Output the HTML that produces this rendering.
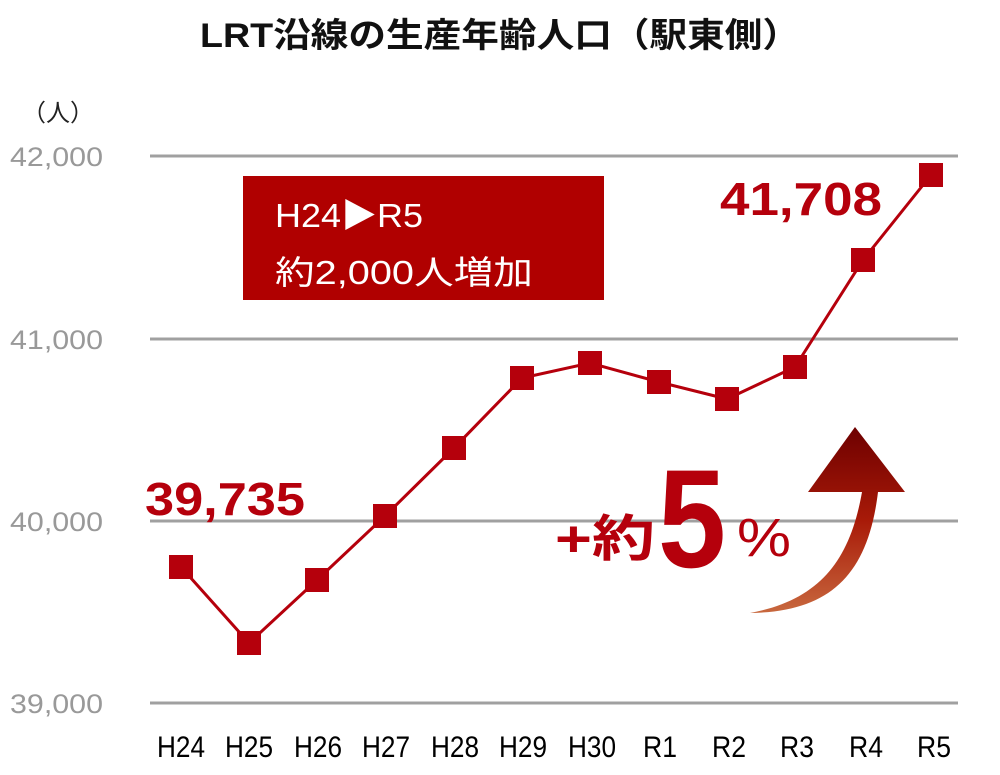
<!DOCTYPE html>
<html><head><meta charset="utf-8"><style>
body{margin:0;background:#fff;}
svg{display:block}
.t{font-family:"Liberation Sans","Noto Sans CJK JP",sans-serif}
</style></head><body>
<svg width="1000" height="775" xmlns="http://www.w3.org/2000/svg">
<defs>
<linearGradient id="g" x1="0" y1="0" x2="0" y2="1">
<stop offset="0" stop-color="#6e0000"/>
<stop offset="0.5" stop-color="#a81a08"/>
<stop offset="1" stop-color="#c8683e"/>
</linearGradient>
</defs>
<text class="t" x="200" y="47" font-size="34" font-weight="bold" fill="#111" textLength="600" lengthAdjust="spacingAndGlyphs">LRT沿線の生産年齢人口（駅東側）</text>
<text class="t" x="22" y="121" font-size="24" fill="#222">（人）</text>
<g stroke="#a0a0a0" stroke-width="3">
<line x1="150" y1="156" x2="958" y2="156"/>
<line x1="150" y1="339" x2="958" y2="339"/>
<line x1="150" y1="521" x2="958" y2="521"/>
<line x1="150" y1="703" x2="958" y2="703"/>
</g>
<g class="t" font-size="27" fill="#999">
<text x="10" y="166" textLength="93" lengthAdjust="spacingAndGlyphs">42,000</text>
<text x="10" y="349" textLength="93" lengthAdjust="spacingAndGlyphs">41,000</text>
<text x="10" y="531" textLength="93" lengthAdjust="spacingAndGlyphs">40,000</text>
<text x="10" y="713" textLength="93" lengthAdjust="spacingAndGlyphs">39,000</text>
</g>
<g class="t" font-size="30" fill="#000" lengthAdjust="spacingAndGlyphs">
<text x="157" y="757" textLength="48" lengthAdjust="spacingAndGlyphs">H24</text>
<text x="225" y="757" textLength="48" lengthAdjust="spacingAndGlyphs">H25</text>
<text x="294" y="757" textLength="48" lengthAdjust="spacingAndGlyphs">H26</text>
<text x="362" y="757" textLength="48" lengthAdjust="spacingAndGlyphs">H27</text>
<text x="431" y="757" textLength="48" lengthAdjust="spacingAndGlyphs">H28</text>
<text x="499" y="757" textLength="48" lengthAdjust="spacingAndGlyphs">H29</text>
<text x="568" y="757" textLength="48" lengthAdjust="spacingAndGlyphs">H30</text>
<text x="643" y="757" textLength="34" lengthAdjust="spacingAndGlyphs">R1</text>
<text x="712" y="757" textLength="34" lengthAdjust="spacingAndGlyphs">R2</text>
<text x="780" y="757" textLength="34" lengthAdjust="spacingAndGlyphs">R3</text>
<text x="849" y="757" textLength="34" lengthAdjust="spacingAndGlyphs">R4</text>
<text x="917" y="757" textLength="34" lengthAdjust="spacingAndGlyphs">R5</text>
</g>
<rect x="243" y="176" width="361" height="124" fill="#b00000"/>
<text class="t" x="275" y="227" font-size="33" fill="#fff" textLength="148" lengthAdjust="spacingAndGlyphs">H24▶R5</text>
<text class="t" x="275" y="284" font-size="33" fill="#fff" textLength="258" lengthAdjust="spacingAndGlyphs">約2,000人増加</text>
<polyline fill="none" stroke="#b5000c" stroke-width="3" points="181,567 249,643 317,580 385,516 454,448 522,378 590,363 659,382 727,399 795,367 863,260 931,175"/>
<g fill="#b5000c">
<rect x="169" y="555" width="24" height="24"/><rect x="237" y="631" width="24" height="24"/>
<rect x="305" y="568" width="24" height="24"/><rect x="373" y="504" width="24" height="24"/>
<rect x="442" y="436" width="24" height="24"/><rect x="510" y="366" width="24" height="24"/>
<rect x="578" y="351" width="24" height="24"/><rect x="647" y="370" width="24" height="24"/>
<rect x="715" y="387" width="24" height="24"/><rect x="783" y="355" width="24" height="24"/>
<rect x="851" y="248" width="24" height="24"/><rect x="919" y="163" width="24" height="24"/>
</g>
<text class="t" x="145" y="515" font-size="46" font-weight="bold" fill="#b5000c" textLength="160" lengthAdjust="spacingAndGlyphs">39,735</text>
<text class="t" x="720" y="215" font-size="46" font-weight="bold" fill="#b5000c" textLength="162" lengthAdjust="spacingAndGlyphs">41,708</text>
<path d="M750,613 C820,600 850,560 862,492 L808,492 L855,427 L905,492 L878,492 C868,575 830,612 750,613 Z" fill="url(#g)"/>
<text class="t" x="555" y="556" font-size="50" font-weight="bold" fill="#b5000c" textLength="100" lengthAdjust="spacingAndGlyphs">+約</text>
<text class="t" x="658" y="567" font-size="140" font-weight="bold" fill="#b5000c" textLength="68" lengthAdjust="spacingAndGlyphs">5</text>
<text class="t" x="737" y="556" font-size="54" fill="#b5000c" textLength="54" lengthAdjust="spacingAndGlyphs">%</text>
</svg>
</body></html>
